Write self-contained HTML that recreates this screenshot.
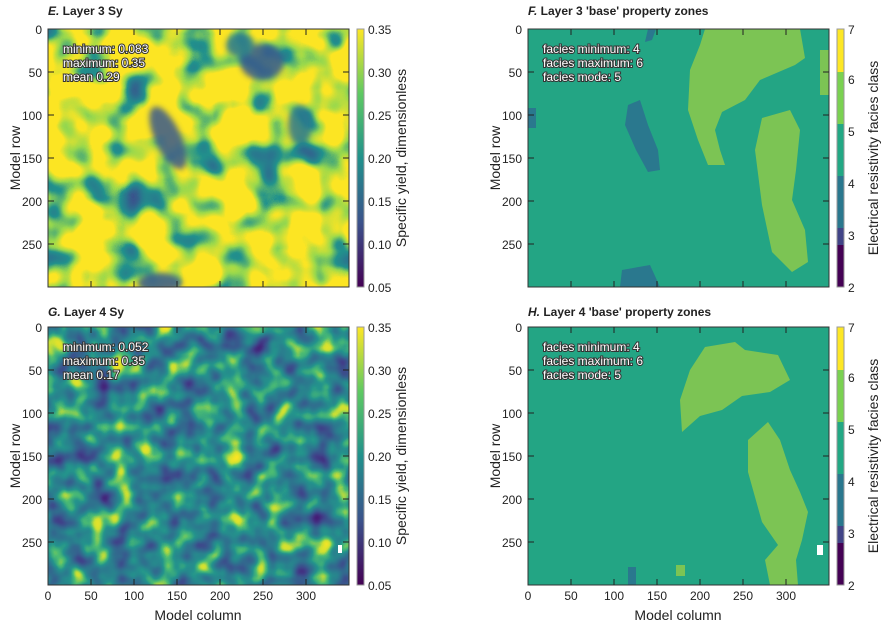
<!DOCTYPE html>
<html><head><meta charset="utf-8"><style>
body{margin:0;background:#fff}
text{font-family:"Liberation Sans Narrow","Liberation Sans",sans-serif;font-size:12px;fill:#222}
.t{font-weight:bold;font-size:12px}
.s{fill:#fff;stroke:#333;stroke-width:2px;paint-order:stroke;font-size:12px}
.ax{font-size:14px}
</style></head><body>
<svg width="883" height="628" viewBox="0 0 883 628" xmlns="http://www.w3.org/2000/svg">
<defs>
<filter id="fE" x="0" y="0" width="100%" height="100%" color-interpolation-filters="sRGB">
<feTurbulence type="fractalNoise" baseFrequency="0.028" numOctaves="2" seed="3"/>
<feColorMatrix type="matrix" values="1 0 0 0 0 1 0 0 0 0 1 0 0 0 0 0 0 0 0 1"/>
<feComponentTransfer>
<feFuncR type="table" tableValues="0.27 0.23 0.17 0.13 0.6 0.99 0.99 0.99 0.99 0.99"/>
<feFuncG type="table" tableValues="0.02 0.32 0.45 0.57 0.85 0.9 0.9 0.9 0.9 0.9"/>
<feFuncB type="table" tableValues="0.33 0.55 0.56 0.55 0.3 0.14 0.14 0.14 0.14 0.14"/>
<feFuncA type="table" tableValues="1 1"/>
</feComponentTransfer>
</filter>
<filter id="fG" x="0" y="0" width="100%" height="100%" color-interpolation-filters="sRGB">
<feTurbulence type="fractalNoise" baseFrequency="0.045" numOctaves="2" seed="8"/>
<feColorMatrix type="matrix" values="1 0 0 0 0 1 0 0 0 0 1 0 0 0 0 0 0 0 0 1"/>
<feComponentTransfer>
<feFuncR type="table" tableValues="0.27 0.27 0.25 0.21 0.17 0.14 0.3 0.8 0.99 0.99"/>
<feFuncG type="table" tableValues="0.0 0.12 0.26 0.38 0.48 0.58 0.74 0.88 0.9 0.9"/>
<feFuncB type="table" tableValues="0.33 0.47 0.54 0.56 0.56 0.55 0.45 0.2 0.14 0.14"/>
<feFuncA type="table" tableValues="1 1"/>
</feComponentTransfer>
</filter>
<filter id="bl"><feGaussianBlur stdDeviation="3"/></filter>
<clipPath id="cE"><rect x="48" y="29" width="301" height="258"/></clipPath>
<linearGradient id="vir" x1="0" y1="1" x2="0" y2="0">
<stop offset="0" stop-color="#440154"/><stop offset="0.25" stop-color="#3b528b"/>
<stop offset="0.5" stop-color="#21918c"/><stop offset="0.75" stop-color="#5ec962"/>
<stop offset="1" stop-color="#fde725"/></linearGradient>
</defs>

<text x="48" y="15" class="t"><tspan font-style="italic">E.</tspan> Layer 3 Sy</text>
<rect x="48" y="29" width="301" height="258" fill="#e0e030" filter="url(#fE)"/>
<g clip-path="url(#cE)" filter="url(#bl)" fill="#3a5a8c" opacity="0.85">
<ellipse cx="168" cy="138" rx="13" ry="34" transform="rotate(-25 168 138)"/>
<ellipse cx="262" cy="62" rx="22" ry="18"/>
<ellipse cx="240" cy="45" rx="14" ry="12" fill="#2a788e"/>
<ellipse cx="160" cy="283" rx="22" ry="10"/>
<ellipse cx="300" cy="125" rx="12" ry="20" fill="#2a788e"/>
</g>
<text x="48" y="316" class="t"><tspan font-style="italic">G.</tspan> Layer 4 Sy</text>
<rect x="48" y="327" width="301" height="258" fill="#2a788e" filter="url(#fG)"/>
<rect x="338" y="545" width="4" height="8" fill="#fff"/>

<text x="528" y="15" class="t"><tspan font-style="italic">F.</tspan> Layer 3  'base' property zones</text>
<rect x="528" y="29" width="301" height="258" fill="#23a584"/>
<g fill="#7cc454">
<polygon points="705,29 800,29 805,58 795,65 760,80 745,100 722,112 715,130 720,150 725,165 708,165 698,140 688,110 690,70 700,45"/>
<polygon points="762,118 790,110 800,130 796,170 792,200 805,230 808,262 792,272 772,252 762,205 755,150"/>
<rect x="820" y="50" width="9" height="45"/>
</g>
<g fill="#2a788e">
<polygon points="628,105 640,100 648,125 658,150 660,170 648,172 636,150 625,125"/>
<polygon points="648,29 656,29 652,40 645,42"/>
<polygon points="622,270 650,265 660,287 620,287"/>
<rect x="528" y="108" width="8" height="20"/>
</g>
<text x="528" y="316" class="t"><tspan font-style="italic">H.</tspan> Layer 4  'base' property zones</text>
<rect x="528" y="327" width="301" height="258" fill="#23a584"/>
<g fill="#7cc454">
<polygon points="705,347 735,342 745,350 778,355 790,380 770,392 742,396 722,410 700,416 682,432 680,400 690,370"/>
<polygon points="768,422 780,440 790,470 800,492 808,512 802,540 796,560 798,585 770,585 765,560 778,545 762,522 748,472 748,440"/>
<rect x="676" y="565" width="9" height="11"/>
</g>
<rect x="628" y="567" width="8" height="18" fill="#2a788e"/>
<rect x="817" y="545" width="6" height="10" fill="#fff"/>

<g fill="none" stroke="#333" stroke-width="1">
<rect x="48" y="29" width="301" height="258"/><rect x="48" y="327" width="301" height="258"/>
<rect x="528" y="29" width="301" height="258"/><rect x="528" y="327" width="301" height="258"/>
</g>
<g stroke="#222" stroke-width="1">
<path id="tk" d="M91,29v6M134,29v6M177,29v6M220,29v6M263,29v6M306,29v6M91,287v-6M134,287v-6M177,287v-6M220,287v-6M263,287v-6M306,287v-6M48,72h6M48,115h6M48,158h6M48,201h6M48,244h6M349,72h-6M349,115h-6M349,158h-6M349,201h-6M349,244h-6"/>
<use href="#tk" y="298"/><use href="#tk" x="480"/><use href="#tk" x="480" y="298"/>
</g>

<rect x="357" y="29" width="7" height="258" fill="url(#vir)"/>
<rect x="357" y="327" width="7" height="258" fill="url(#vir)"/>
<g>
<rect x="837" y="29" width="7" height="43" fill="#fde725"/><rect x="837" y="72" width="7" height="52" fill="#7ad151"/>
<rect x="837" y="124" width="7" height="52" fill="#22a884"/><rect x="837" y="176" width="7" height="52" fill="#2a788e"/>
<rect x="837" y="228" width="7" height="17" fill="#414487"/><rect x="837" y="245" width="7" height="42" fill="#440154"/>
<rect x="837" y="327" width="7" height="43" fill="#fde725"/><rect x="837" y="370" width="7" height="52" fill="#7ad151"/>
<rect x="837" y="422" width="7" height="52" fill="#22a884"/><rect x="837" y="474" width="7" height="52" fill="#2a788e"/>
<rect x="837" y="526" width="7" height="17" fill="#414487"/><rect x="837" y="543" width="7" height="42" fill="#440154"/>
</g>
<g fill="none" stroke="#999" stroke-width="1">
<rect x="357" y="29" width="7" height="258"/><rect x="357" y="327" width="7" height="258"/>
<rect x="837" y="29" width="7" height="258"/><rect x="837" y="327" width="7" height="258"/>
</g>

<g text-anchor="end">
<text x="42" y="34">0</text><text x="42" y="77">50</text><text x="42" y="120">100</text><text x="42" y="163">150</text><text x="42" y="206">200</text><text x="42" y="249">250</text>
<text x="42" y="332">0</text><text x="42" y="375">50</text><text x="42" y="418">100</text><text x="42" y="461">150</text><text x="42" y="504">200</text><text x="42" y="547">250</text>
<text x="522" y="34">0</text><text x="522" y="77">50</text><text x="522" y="120">100</text><text x="522" y="163">150</text><text x="522" y="206">200</text><text x="522" y="249">250</text>
<text x="522" y="332">0</text><text x="522" y="375">50</text><text x="522" y="418">100</text><text x="522" y="461">150</text><text x="522" y="504">200</text><text x="522" y="547">250</text>
</g>
<g text-anchor="middle">
<text x="48" y="600">0</text><text x="91" y="600">50</text><text x="134" y="600">100</text><text x="177" y="600">150</text><text x="220" y="600">200</text><text x="263" y="600">250</text><text x="306" y="600">300</text>
<text x="528" y="600">0</text><text x="571" y="600">50</text><text x="614" y="600">100</text><text x="657" y="600">150</text><text x="700" y="600">200</text><text x="743" y="600">250</text><text x="786" y="600">300</text>
<text x="198" y="620" class="ax">Model column</text><text x="678" y="620" class="ax">Model column</text>
<text transform="translate(20,158) rotate(-90)" class="ax">Model row</text>
<text transform="translate(20,456) rotate(-90)" class="ax">Model row</text>
<text transform="translate(500,158) rotate(-90)" class="ax">Model row</text>
<text transform="translate(500,456) rotate(-90)" class="ax">Model row</text>
<text transform="translate(406,158) rotate(-90)" class="ax">Specific yield, dimensionless</text>
<text transform="translate(406,456) rotate(-90)" class="ax">Specific yield, dimensionless</text>
<text transform="translate(878,158) rotate(-90)" class="ax">Electrical resistivity facies class</text>
<text transform="translate(878,456) rotate(-90)" class="ax">Electrical resistivity facies class</text>
</g>
<g>
<text x="368" y="34">0.35</text><text x="368" y="77">0.30</text><text x="368" y="120">0.25</text><text x="368" y="163">0.20</text><text x="368" y="206">0.15</text><text x="368" y="249">0.10</text><text x="368" y="292">0.05</text>
<text x="368" y="332">0.35</text><text x="368" y="375">0.30</text><text x="368" y="418">0.25</text><text x="368" y="461">0.20</text><text x="368" y="504">0.15</text><text x="368" y="547">0.10</text><text x="368" y="590">0.05</text>
<text x="848" y="34">7</text><text x="848" y="84">6</text><text x="848" y="136">5</text><text x="848" y="188">4</text><text x="848" y="240">3</text><text x="848" y="292">2</text>
<text x="848" y="332">7</text><text x="848" y="382">6</text><text x="848" y="434">5</text><text x="848" y="486">4</text><text x="848" y="538">3</text><text x="848" y="590">2</text>
</g>
<g class="s">
<text x="63" y="53" class="s">minimum: 0.083</text><text x="63" y="67" class="s">maximum: 0.35</text><text x="63" y="81" class="s">mean 0.29</text>
<text x="63" y="351" class="s">minimum: 0.052</text><text x="63" y="365" class="s">maximum: 0.35</text><text x="63" y="379" class="s">mean 0.17</text>
<text x="543" y="53" class="s">facies minimum: 4</text><text x="543" y="67" class="s">facies maximum: 6</text><text x="543" y="81" class="s">facies mode: 5</text>
<text x="543" y="351" class="s">facies minimum: 4</text><text x="543" y="365" class="s">facies maximum: 6</text><text x="543" y="379" class="s">facies mode: 5</text>
</g>
</svg>
</body></html>
